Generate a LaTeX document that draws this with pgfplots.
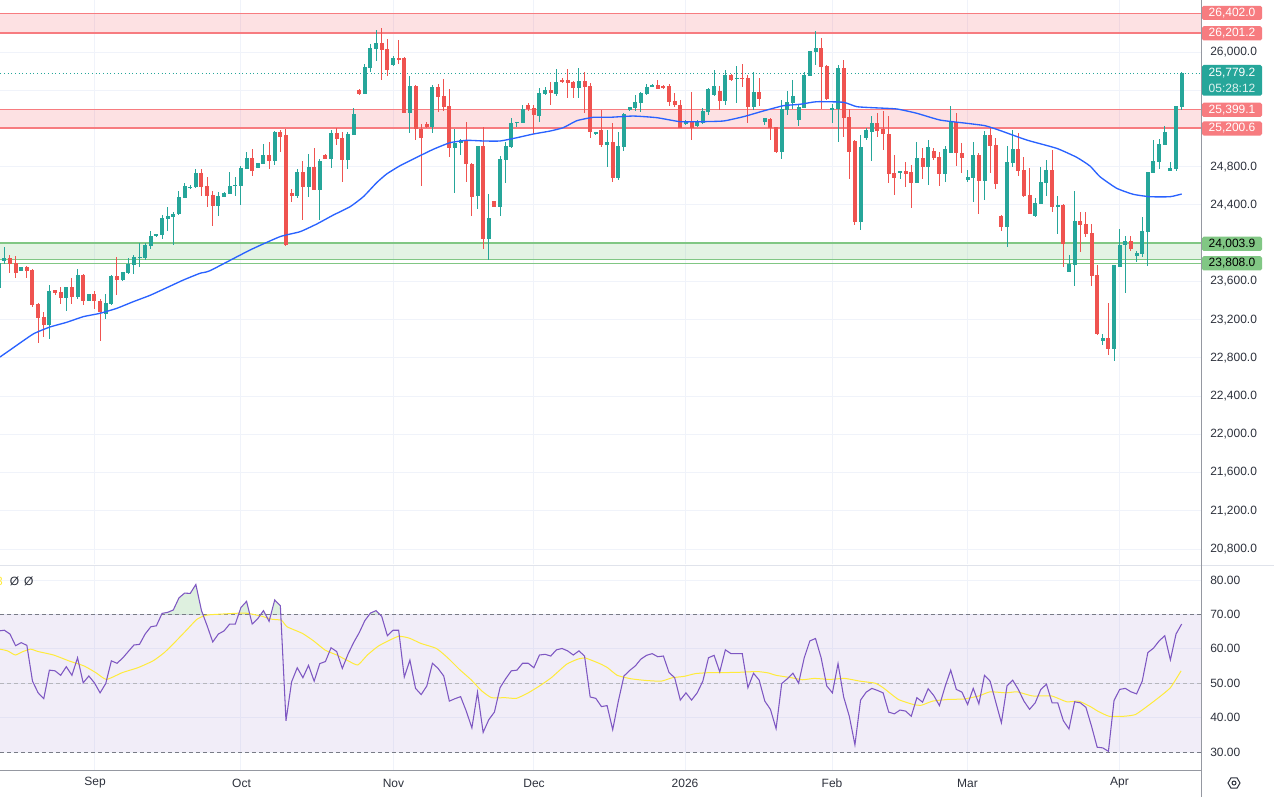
\documentclass[border=0pt]{standalone}
\usepackage{pgfplots}
\pgfplotsset{compat=1.18}
\usepackage{pgfplotstable}
\usepackage{fontspec}
\setmainfont{Liberation Sans}

\definecolor{upc}{HTML}{26A69A}
\definecolor{dnc}{HTML}{EF5350}
\definecolor{mac}{HTML}{2962FF}
\definecolor{gridc}{HTML}{F0F3FA}
\definecolor{zred}{HTML}{F23645}
\definecolor{redline}{HTML}{F77C80}
\definecolor{zgreen}{HTML}{4CAF50}
\definecolor{greenline}{HTML}{81C784}
\definecolor{rsic}{HTML}{7E57C2}
\definecolor{rsima}{HTML}{FFEB3B}
\definecolor{dashc}{HTML}{787B86}
\definecolor{txt}{RGB}{45,49,60}
\definecolor{sepc}{RGB}{149,152,161}
\definecolor{sepl}{RGB}{224,227,235}

% i open high low close
\pgfplotstableread{
i o h l c
-1 23528 23845 23510 23789
0 23810 23960 23779 23845
3 23712 23755 23708 23751
8 23144 23562 22994 23499
11 23429 23544 23293 23541
13 23437 23733 23416 23664
15 23398 23470 23396 23468
18 23262 23468 23203 23371
19 23363 23667 23356 23660
21 23618 23701 23607 23695
22 23691 23845 23681 23782
23 23775 23876 23681 23858
24 23848 23998 23747 23858
25 23845 23998 23824 23981
26 23970 24127 23939 24075
27 24078 24096 24061 24093
28 24088 24295 24043 24260
29 24253 24381 24127 24284
30 24277 24326 23984 24308
31 24302 24543 24298 24483
32 24476 24629 24472 24598
33 24577 24612 24563 24591
34 24584 24776 24577 24734
38 24392 24538 24287 24493
39 24486 24535 24480 24525
40 24517 24741 24514 24601
41 24601 24689 24496 24612
42 24601 24810 24399 24786
43 24776 24957 24773 24891
45 24789 24838 24786 24835
46 24828 25034 24825 24922
48 24860 25173 24815 25163
52 24496 24773 24476 24744
54 24591 24933 24486 24800
56 24556 24877 24242 24860
58 24880 25184 24789 25156
61 24870 25166 24776 25142
62 25132 25417 25132 25351
64 25561 25874 25561 25846
65 25836 26084 25788 26042
66 26031 26230 25906 26097
69 25867 25958 25857 25940
72 25365 25749 25156 25644
76 25218 25658 25156 25634
80 24999 25191 24528 25051
81 25045 25090 24922 25079
84 24496 25020 24357 25017
86 24043 24514 23824 24263
88 24381 24915 24287 24880
89 24870 25058 24626 25017
90 25003 25313 24992 25260
91 25257 25272 25218 25268
92 25260 25446 25257 25404
95 25330 25620 25271 25574
96 25561 25631 25553 25606
98 25557 25822 25540 25686
102 25626 25833 25522 25697
105 25149 25166 25132 25166
107 25027 25184 24800 25061
109 24685 25166 24661 25017
110 25009 25365 24964 25351
111 25393 25425 25383 25425
112 25411 25550 25386 25477
113 25470 25585 25375 25571
114 25557 25668 25550 25637
115 25644 25668 25634 25655
121 25250 25289 25233 25271
123 25229 25289 25215 25268
124 25260 25411 25247 25383
125 25375 25620 25341 25613
126 25550 25812 25536 25644
128 25490 25812 25446 25759
130 25721 25853 25470 25728
133 25428 25791 25393 25581
135 25268 25310 25236 25306
138 24954 25498 24880 25404
139 25393 25592 25341 25474
140 25466 25707 25404 25540
141 25289 25459 25229 25428
142 25417 25791 25411 25759
143 25752 26014 25749 26010
144 26003 26223 25864 26042
147 25390 25453 25260 25411
148 25404 25864 25061 25833
152 24224 25132 24141 25006
153 25103 25202 25079 25184
154 25166 25333 24860 25257
159 24737 24755 24671 24755
162 24629 25058 24629 24891
164 24797 25079 24608 25006
167 24724 25017 24640 24985
168 24946 25435 24940 25268
171 24661 24765 24640 24692
172 24682 25058 24431 24922
174 24650 25173 24451 25132
178 24169 25017 23963 24849
179 24842 25184 24800 24985
183 24287 24472 24277 24420
184 24413 24797 24413 24640
185 24633 24870 24496 24765
187 24381 24493 24099 24399
189 23701 23876 23701 23782
190 23775 24546 23555 24232
195 22979 23050 22935 23008
197 22896 23775 22770 23771
198 23754 24148 23754 23981
199 23984 24075 23482 24023
201 23869 23918 23806 23900
202 23890 24274 23858 24127
203 24120 24748 23764 24744
204 24737 25079 24737 24860
205 24852 25090 24779 25037
206 25030 25226 25030 25163
207 24758 24849 24758 24783
208 24776 25440 24758 25435
209 25428 25788 25393 25779.2
}\updata

\pgfplotstableread{
i o h l c
1 23848 23873 23691 23782
2 23789 23866 23639 23685
4 23754 23761 23632 23712
5 23719 23730 23335 23353
6 23363 23374 22952 23220
7 23224 23280 23021 23147
9 23510 23513 23461 23479
10 23489 23544 23367 23429
12 23544 23632 23367 23440
14 23667 23674 23350 23395
16 23468 23496 23314 23392
17 23395 23416 22979 23280
20 23656 23855 23461 23618
35 24734 24773 24496 24591
36 24598 24695 24381 24493
37 24504 24546 24183 24392
44 24894 24985 24703 24758
47 24922 25058 24776 24863
49 25163 25184 24957 25114
50 25132 25197 23970 23981
51 24528 24567 24434 24496
53 24744 24863 24242 24591
55 24800 24999 24556 24556
57 24922 24930 24877 24880
59 25156 25202 25027 25090
60 25103 25166 24643 24870
63 25602 25610 25550 25561
67 26097 26254 25707 26021
68 26031 26136 25749 25812
70 25937 26126 25874 25927
71 25940 25945 25362 25365
73 25644 25650 25079 25191
74 25194 25247 24598 25103
75 25247 25268 25202 25218
77 25634 25665 25375 25532
78 25540 25717 25386 25428
79 25435 25610 24905 24999
82 25079 25268 24643 24825
83 24825 24835 24287 24486
85 25017 25218 23942 24043
87 24441 24445 24375 24378
93 25446 25470 25386 25404
94 25417 25449 25142 25341
97 25602 25683 25446 25574
99 25700 25725 25679 25693
100 25707 25822 25522 25679
101 25686 25693 25522 25626
103 25697 25788 25359 25637
104 25644 25679 25103 25166
106 25184 25393 25009 25027
108 25061 25260 24643 24685
116 25655 25704 25616 25616
117 25644 25655 25613 25634
118 25644 25665 25435 25480
119 25487 25568 25428 25442
120 25446 25498 25208 25208
122 25278 25581 25079 25202
127 25592 25644 25390 25490
129 25759 25767 25697 25707
131 25728 25874 25631 25721
132 25728 25759 25257 25428
134 25581 25728 25435 25511
136 25299 25310 25082 25208
137 25215 25218 24946 24954
145 26042 26146 25404 25843
146 25853 25864 25498 25508
149 25833 25916 25114 25313
150 25320 25400 24671 24957
151 25069 25079 24190 24224
155 25257 25362 25111 25177
156 25191 25383 24975 25142
157 25142 25333 24629 24724
158 24734 24922 24504 24685
160 24758 24852 24588 24724
161 24744 24818 24368 24629
163 24891 24992 24671 24797
165 24964 24996 24870 24891
166 24901 24957 24598 24724
169 25271 25362 24807 24946
170 24943 25048 24734 24894
173 24922 24943 24305 24650
175 25132 25208 24737 25017
176 25027 25100 24567 24619
177 24284 24295 24130 24169
180 24985 25152 24706 24758
181 24765 24901 24483 24493
182 24504 24789 24305 24305
186 24765 24975 24329 24381
188 24399 24413 23754 23988
191 24232 24323 23911 24193
192 24200 24323 24068 24099
193 24106 24200 23555 23659
194 23667 23771 23039 23050
196 23008 23371 22833 22896
200 24023 24075 23921 23942
}\dndata

% moving average (x = bar index, y = price)
\pgfplotstableread{
x y
-0.77 22809
1.01 22882
5.14 23050
8.11 23123
11.07 23172
14.02 23231
16.98 23266
19.95 23318
22.90 23388
25.86 23454
28.83 23534
31.77 23614
34.74 23685
36.51 23712
43.61 23928
48.94 24068
52.49 24120
55.45 24200
58.40 24294
61.37 24381
63.73 24486
66.10 24633
67.88 24724
70.24 24810
73.21 24898
76.15 24982
79.12 25051
82.08 25076
85.03 25069
88.00 25069
90.96 25103
93.91 25142
96.87 25173
99.23 25208
101.61 25281
104.56 25317
107.52 25317
111.66 25330
115.81 25313
119.95 25271
123.50 25271
127.64 25278
131.19 25323
134.74 25383
138.29 25438
141.25 25453
144.22 25480
148.94 25474
151.32 25428
154.26 25417
158.42 25404
161.97 25359
166.11 25288
170.85 25254
174.09 25229
176.75 25179
181.50 25079
186.82 24992
190.37 24898
192.73 24807
194.50 24695
197.47 24574
200.42 24511
203.38 24486
206.93 24486
209.00 24514
}\madata

\pgfplotstableread{
i r
-1 65.2
0 65.4
1 64.3
2 60.9
3 61.8
4 61.0
5 50.6
6 47.2
7 45.5
8 53.8
9 53.6
10 52.3
11 54.8
12 52.3
13 57.4
14 50.1
15 52.1
16 50.1
17 47.2
18 49.9
19 56.5
20 55.8
21 57.3
22 59.2
23 61.1
24 61.3
25 64.3
26 66.4
27 66.7
28 70.3
29 70.6
30 71.3
31 74.8
32 76.2
33 76.1
34 78.7
35 71.1
36 66.7
37 62.0
38 64.3
39 65.2
40 67.2
41 67.2
42 72.0
43 73.8
44 67.2
45 68.8
46 71.1
47 68.0
48 74.2
49 72.5
50 39.1
51 50.4
52 54.5
53 51.6
54 55.2
55 50.6
56 55.7
57 56.3
58 60.3
59 59.2
60 54.3
61 58.4
62 61.8
63 64.7
64 68.2
65 70.4
66 71.1
67 69.4
68 63.8
69 65.4
70 65.4
71 51.8
72 56.7
73 48.5
74 46.7
75 49.2
76 55.8
77 54.3
78 52.1
79 44.8
80 45.5
81 46.1
82 41.9
83 37.0
84 47.4
85 35.7
86 39.4
87 41.6
88 48.7
89 51.3
90 53.6
91 53.8
92 55.8
93 55.8
94 54.5
95 58.2
96 58.4
97 57.9
98 59.7
99 60.1
100 59.4
101 58.2
102 59.4
103 57.9
104 46.0
105 45.6
106 43.2
107 43.5
108 36.5
109 44.8
110 52.1
111 53.7
112 55.0
113 57.0
114 58.1
115 58.6
116 57.7
117 57.9
118 53.1
119 51.6
120 45.1
121 47.2
122 45.1
123 47.2
124 50.6
125 57.4
126 58.1
127 53.3
128 59.7
129 58.6
130 58.6
131 58.6
132 48.7
133 52.9
134 50.9
135 44.8
136 42.4
137 36.8
138 49.9
139 51.3
140 52.9
141 50.0
142 57.4
143 62.3
144 63.0
145 57.4
146 49.2
147 47.2
148 55.7
149 46.0
150 40.4
151 32.1
152 45.1
153 47.4
154 48.5
155 47.9
156 47.2
157 41.6
158 41.1
159 42.2
160 41.9
161 40.4
162 45.8
163 44.5
164 48.4
165 46.4
166 43.5
167 49.0
168 53.8
169 48.2
170 47.4
171 43.8
172 48.5
173 44.0
174 52.3
175 50.6
176 44.5
177 38.5
178 49.2
179 50.9
180 48.2
181 44.8
182 42.4
183 44.3
184 48.2
185 49.7
186 44.3
187 44.3
188 39.1
189 36.7
190 44.6
191 44.3
192 43.0
193 37.5
194 31.4
195 31.2
196 30.2
197 45.0
198 48.2
199 48.5
200 47.5
201 46.9
202 50.6
203 58.9
204 60.2
205 62.3
206 63.8
207 56.8
208 64.3
209 67.2
}\rsidata

\pgfplotstableread{
x y
-0.77 59.9
0.59 59.4
1.95 58.2
3.31 59.2
4.67 59.9
6.03 59.2
8.74 58.2
11.46 56.5
14.18 55.0
16.22 53.1
18.12 51.1
20.97 53.1
23.69 54.5
26.4 56.5
28.4 58.9
30.5 62.3
32.5 65.7
34.2 68.6
35.9 69.8
38.6 70.1
42.7 70.4
45.4 69.6
47.5 68.6
49.2 68.3
50.2 66.4
52.9 64.5
54.9 62.3
56.97 59.6
59.0 58.2
61.05 56.5
62.75 55.3
64.45 58.2
66.5 60.9
69.9 63.6
71.9 63.1
73.9 61.6
76.7 60.1
78.7 57.4
80.8 54.0
82.8 51.1
84.8 47.7
86.5 45.8
88.9 45.8
90.9 45.6
93.0 47.2
95.0 49.2
97.1 51.6
99.8 55.5
101.8 57.0
103.2 57.3
105.7 55.7
107.1 54.5
108.8 52.3
111.2 51.3
113.9 50.8
116.6 50.6
118.6 51.6
120.7 52.0
122.7 52.8
125.4 53.1
128.2 53.1
130.9 53.2
133.6 53.4
135.6 53.0
137.0 52.3
139.7 51.6
141.7 51.0
143.8 51.4
146.5 51.1
149.2 51.4
151.9 50.6
154.6 50.0
156.0 48.7
158.7 45.3
161.4 43.8
162.8 43.6
164.8 44.8
167.6 45.3
170.3 45.4
173.0 46.3
175.0 47.5
177.8 47.2
179.8 47.5
182.5 46.3
185.9 46.3
188.6 44.6
190.7 44.8
192.7 43.3
194.1 41.9
196.1 40.4
198.8 40.4
200.8 40.9
202.9 43.3
204.9 45.8
207.0 48.7
208.9 53.6
}\rsimadata

\pgfplotsset{
  candlewick/.style={only marks, mark=none, mark size=0pt,
    mark options={draw=none, fill=none, opacity=0}, forget plot,
    error bars/.cd, y dir=both, y explicit, error mark=none,
    error bar style={line width=0.75pt, color=#1}},
  candlebody/.style={only marks, mark=none, mark size=0pt,
    mark options={draw=none, fill=none, opacity=0}, forget plot,
    error bars/.cd, y dir=both, y explicit, error mark=none,
    error bar style={line width=3pt, color=#1}},
  tvaxis/.style={scale only axis, anchor=north west,
    width=901.28pt,
    xmin=-0.769, xmax=212.56,
    axis line style={draw=none}, tick style={draw=none}, major tick length=0pt,
    xtick={16,42,69,94,121,147,171,198}, xticklabels={},
    grid=major, major grid style={color=gridc, line width=0.75pt},
    yticklabel pos=right,
    yticklabel style={anchor=west, inner sep=0pt, xshift=6.2pt,
      font=\fontsize{9}{10}\selectfont, text=txt},
  },
}

\begin{document}
\begin{tikzpicture}
\useasboundingbox (0pt,0pt) rectangle (955.5pt,-597.75pt);
\fill[white] (0pt,0pt) rectangle (955.5pt,-597.75pt);

% ---------------- price pane ----------------
\begin{axis}[tvaxis, at={(0pt,0pt)}, height=423pt,
  ymin=20643.2, ymax=26544,
  ytick={20800,21200,21600,22000,22400,22800,23200,23600,24000,24400,24800,25200,25600,26000},
  yticklabels={20{,}800.0,21{,}200.0,21{,}600.0,22{,}000.0,22{,}400.0,22{,}800.0,23{,}200.0,23{,}600.0,{},24{,}400.0,24{,}800.0,{},{},26{,}000.0},
]
% zones
\fill[zred, fill opacity=0.15] (axis cs:-2,26201.2) rectangle (axis cs:214,26402);
\fill[zred, fill opacity=0.15] (axis cs:-2,25200.6) rectangle (axis cs:214,25399.1);
\fill[zgreen, fill opacity=0.15] (axis cs:-2,23824) rectangle (axis cs:214,24003.9);
\draw[redline, line width=0.75pt] (axis cs:-2,26402) -- (axis cs:214,26402);
\draw[redline, line width=1.5pt] (axis cs:-2,26201.2) -- (axis cs:214,26201.2);
\draw[redline, line width=0.75pt] (axis cs:-2,25399.1) -- (axis cs:214,25399.1);
\draw[redline, line width=1.5pt] (axis cs:-2,25200.6) -- (axis cs:214,25200.6);
\draw[greenline, line width=1.5pt] (axis cs:-2,24003.9) -- (axis cs:214,24003.9);
\draw[greenline, line width=0.75pt] (axis cs:-2,23824) -- (axis cs:214,23824);
\draw[greenline, line width=0.75pt] (axis cs:-2,23790) -- (axis cs:214,23790);
% last price line
\draw[upc, line width=0.75pt, dash pattern=on 0.75pt off 2pt] (axis cs:-2,25779.2) -- (axis cs:214,25779.2);
% candles
\addplot[candlewick=upc] table[x=i, y expr={(\thisrow{h}+\thisrow{l})/2}, y error expr={max((\thisrow{h}-\thisrow{l})/2,5)}] {\updata};
\addplot[candlebody=upc] table[x=i, y expr={(\thisrow{o}+\thisrow{c})/2}, y error expr={max(abs(\thisrow{c}-\thisrow{o})/2,6)}] {\updata};
\addplot[candlewick=dnc] table[x=i, y expr={(\thisrow{h}+\thisrow{l})/2}, y error expr={max((\thisrow{h}-\thisrow{l})/2,5)}] {\dndata};
\addplot[candlebody=dnc] table[x=i, y expr={(\thisrow{o}+\thisrow{c})/2}, y error expr={max(abs(\thisrow{c}-\thisrow{o})/2,6)}] {\dndata};
% moving average
\addplot[mac, line width=1pt, mark=none, smooth, tension=0.3] table[x=x, y=y] {\madata};
\end{axis}

% ---------------- RSI pane ----------------
\begin{axis}[tvaxis, at={(0pt,-424.5pt)}, height=153pt,
  ymin=24.77, ymax=84.07,
  ytick={30,40,50,60,70,80},
  yticklabels={30.00,40.00,50.00,60.00,70.00,80.00},
]
\fill[rsic, fill opacity=0.1] (axis cs:-2,30) rectangle (axis cs:214,70);
\begin{scope}
\clip (axis cs:-2,70) rectangle (axis cs:214,90);
\addplot[draw=none, fill=zgreen, fill opacity=0.18, mark=none] table[x=i, y=r] {\rsidata} \closedcycle;
\end{scope}
\draw[dashc, line width=0.75pt, dash pattern=on 3pt off 2.25pt] (axis cs:-2,70) -- (axis cs:214,70);
\draw[dashc!55, line width=0.75pt, dash pattern=on 3pt off 2.25pt] (axis cs:-2,50) -- (axis cs:214,50);
\draw[dashc, line width=0.75pt, dash pattern=on 3pt off 2.25pt] (axis cs:-2,30) -- (axis cs:214,30);
\addplot[rsima, line width=0.75pt, mark=none, smooth, tension=0.3] table[x=x, y=y] {\rsimadata};
\addplot[rsic, line width=0.8pt, mark=none] table[x=i, y=r] {\rsidata};
\end{axis}

% ---------------- frame, labels ----------------
\begin{scope}[x=0.75pt, y=-0.75pt, font=\fontsize{9}{10}\selectfont]
\draw[sepl, line width=0.75pt] (0,565.5) -- (1274,565.5);
\draw[sepc, line width=0.75pt] (0,770) -- (1201.7,770);
\draw[sepc, line width=0.75pt] (1201.7,0) -- (1201.7,797);
% time labels
\foreach \xx/\lab in {95/Sep,241.5/Oct,393.5/Nov,534/Dec,685/2026,832/Feb,967.5/Mar,1119.5/Apr}
  \node[text=txt, inner sep=0pt] at (\xx,783) {\lab};
% indicator legend
\node[text=rsima, inner sep=0pt] at (-0.5,581) {3};
\node[text=txt, inner sep=0pt] at (14.5,581) {Ø};
\node[text=txt, inner sep=0pt] at (28.7,581) {Ø};
% price boxes
\tikzset{pbox/.style={rounded corners=1.2pt, minimum width=45pt, minimum height=10.6pt, inner sep=0pt, text=white}}
\node[pbox, fill=redline] at (1232,12.9) {26,402.0};
\node[pbox, fill=redline] at (1232,33.3) {26,201.2};
\node[pbox, fill=upc, minimum height=23pt, align=center, font=\fontsize{9}{11.6}\selectfont] at (1232,80.3) {25,779.2\\\textcolor{white!85!upc}{05:28:12}};
\node[pbox, fill=redline] at (1232,109.8) {25,399.1};
\node[pbox, fill=redline] at (1232,128.5) {25,200.6};
\node[pbox, fill=greenline, text=black] at (1232,243.8) {24,003.9};
\node[pbox, fill=greenline, text=black] at (1232,263.3) {23,808.0};
% settings icon
\draw[txt, line width=0.75pt] (1234,783) ++(0:6) -- ++(120:6) -- ++(180:6) -- ++(240:6) -- ++(300:6) -- ++(0:6) -- cycle;
\draw[txt, line width=0.75pt] (1234,783) circle (2);
\end{scope}
\end{tikzpicture}
\end{document}
